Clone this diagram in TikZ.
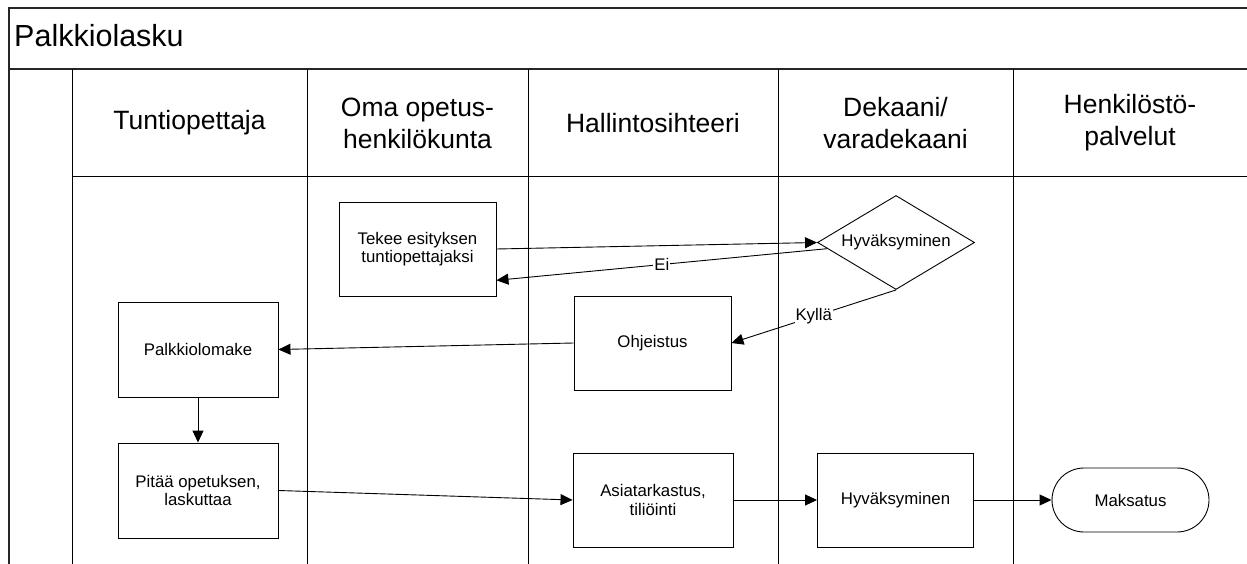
\documentclass[tikz,border=0pt]{standalone}
\usepackage{fontspec}
\setmainfont{Liberation Sans}
\usetikzlibrary{shapes.geometric,arrows.meta,calc}

\newcommand\stepfont{\fontsize{16.8}{18.5}\selectfont}
\newcommand\lanefont{\fontsize{26.5}{32}\selectfont}
\newcommand\poolfont{\fontsize{30.5}{34}\selectfont}

\begin{document}
\begin{tikzpicture}[x=1pt,y=-1pt,
  frame/.style={draw=black!85, line width=1.2pt},
  lane/.style={draw=black, line width=1pt},
  lanetitle/.style={align=center, font=\lanefont, inner sep=0pt},
  stepbox/.style={draw, line width=0.9pt, minimum width=158pt, minimum height=94pt,
    inner sep=2pt, align=center, font=\stepfont},
  decision/.style={draw, diamond, aspect=1.67, line width=0.9pt, minimum width=157pt,
    minimum height=94pt, inner sep=0pt, font=\stepfont},
  terminal/.style={draw, rectangle, rounded corners=32pt, line width=0.9pt,
    minimum width=157pt, minimum height=64pt, font=\stepfont},
  flow/.style={draw, line width=0.9pt, -{Triangle[length=12pt,width=11pt]}},
  flowlabel/.style={fill=white, inner sep=1pt, font=\stepfont}
]
\useasboundingbox (0,0) rectangle (1247,564);

% pool frame and title band
\draw[frame] (9,564) -- (9,8) -- (1250,8);
\draw[frame] (9,69) -- (1250,69);
\node[anchor=base west, font=\poolfont, inner sep=0pt] (pool) at (14,47) {Palkkiolasku};

% lane grid
\draw[lane] (72,69) -- (72,564);
\draw[lane] (72,177) -- (1250,177);
\foreach \x in {307,528,778,1013} \draw[lane] (\x,69) -- (\x,564);

% lane titles
\node[lanetitle] (l1) at (189.5,123) {Tuntiopettaja};
\node[lanetitle] (l2) at (417.5,123) {Oma opetus-\\henkilökunta};
\node[lanetitle] (l3) at (653,123) {Hallintosihteeri};
\node[lanetitle] (l4) at (895.5,123) {Dekaani/\\varadekaani};
\node[lanetitle] (l5) at (1130,123) {Henkilöstö-\\palvelut};

% process steps
\node[stepbox, minimum width=157pt] (tekee) at (417.5,249) {Tekee esityksen\\tuntiopettajaksi};
\node[decision] (hyv1) at (896,242.5) {Hyväksyminen};
\node[stepbox, minimum width=157pt] (ohj) at (652.5,343) {Ohjeistus};
\node[stepbox, minimum width=160pt, minimum height=95pt] (palk) at (198,349.5) {Palkkiolomake};
\node[stepbox, minimum width=160pt, minimum height=95pt] (pitaa) at (198,490.5) {Pitää opetuksen,\\laskuttaa};
\node[stepbox, minimum width=160pt] (asia) at (653,500) {Asiatarkastus,\\tiliöinti};
\node[stepbox, minimum width=156pt] (hyv2) at (895.5,500) {Hyväksyminen};
\node[terminal] (maks) at (1130.5,500) {Maksatus};

% connectors
\draw[flow] (tekee.east) -- (hyv1.west);
\draw[flow] ($(hyv1.west)!0.13!(hyv1.south)$) --
  node[flowlabel, pos=0.5] {Ei} ($(tekee.north east)!0.83!(tekee.south east)$);
\draw[flow] (hyv1.south) -- node[flowlabel, pos=0.5] {Kyllä} (ohj.east);
\draw[flow] (ohj.west) -- (palk.east);
\draw[flow] (palk.south) -- (pitaa.north);
\draw[flow] (pitaa.east) -- (asia.west);
\draw[flow] (asia.east) -- (hyv2.west);
\draw[flow] (hyv2.east) -- (maks.west);
\end{tikzpicture}
\end{document}
